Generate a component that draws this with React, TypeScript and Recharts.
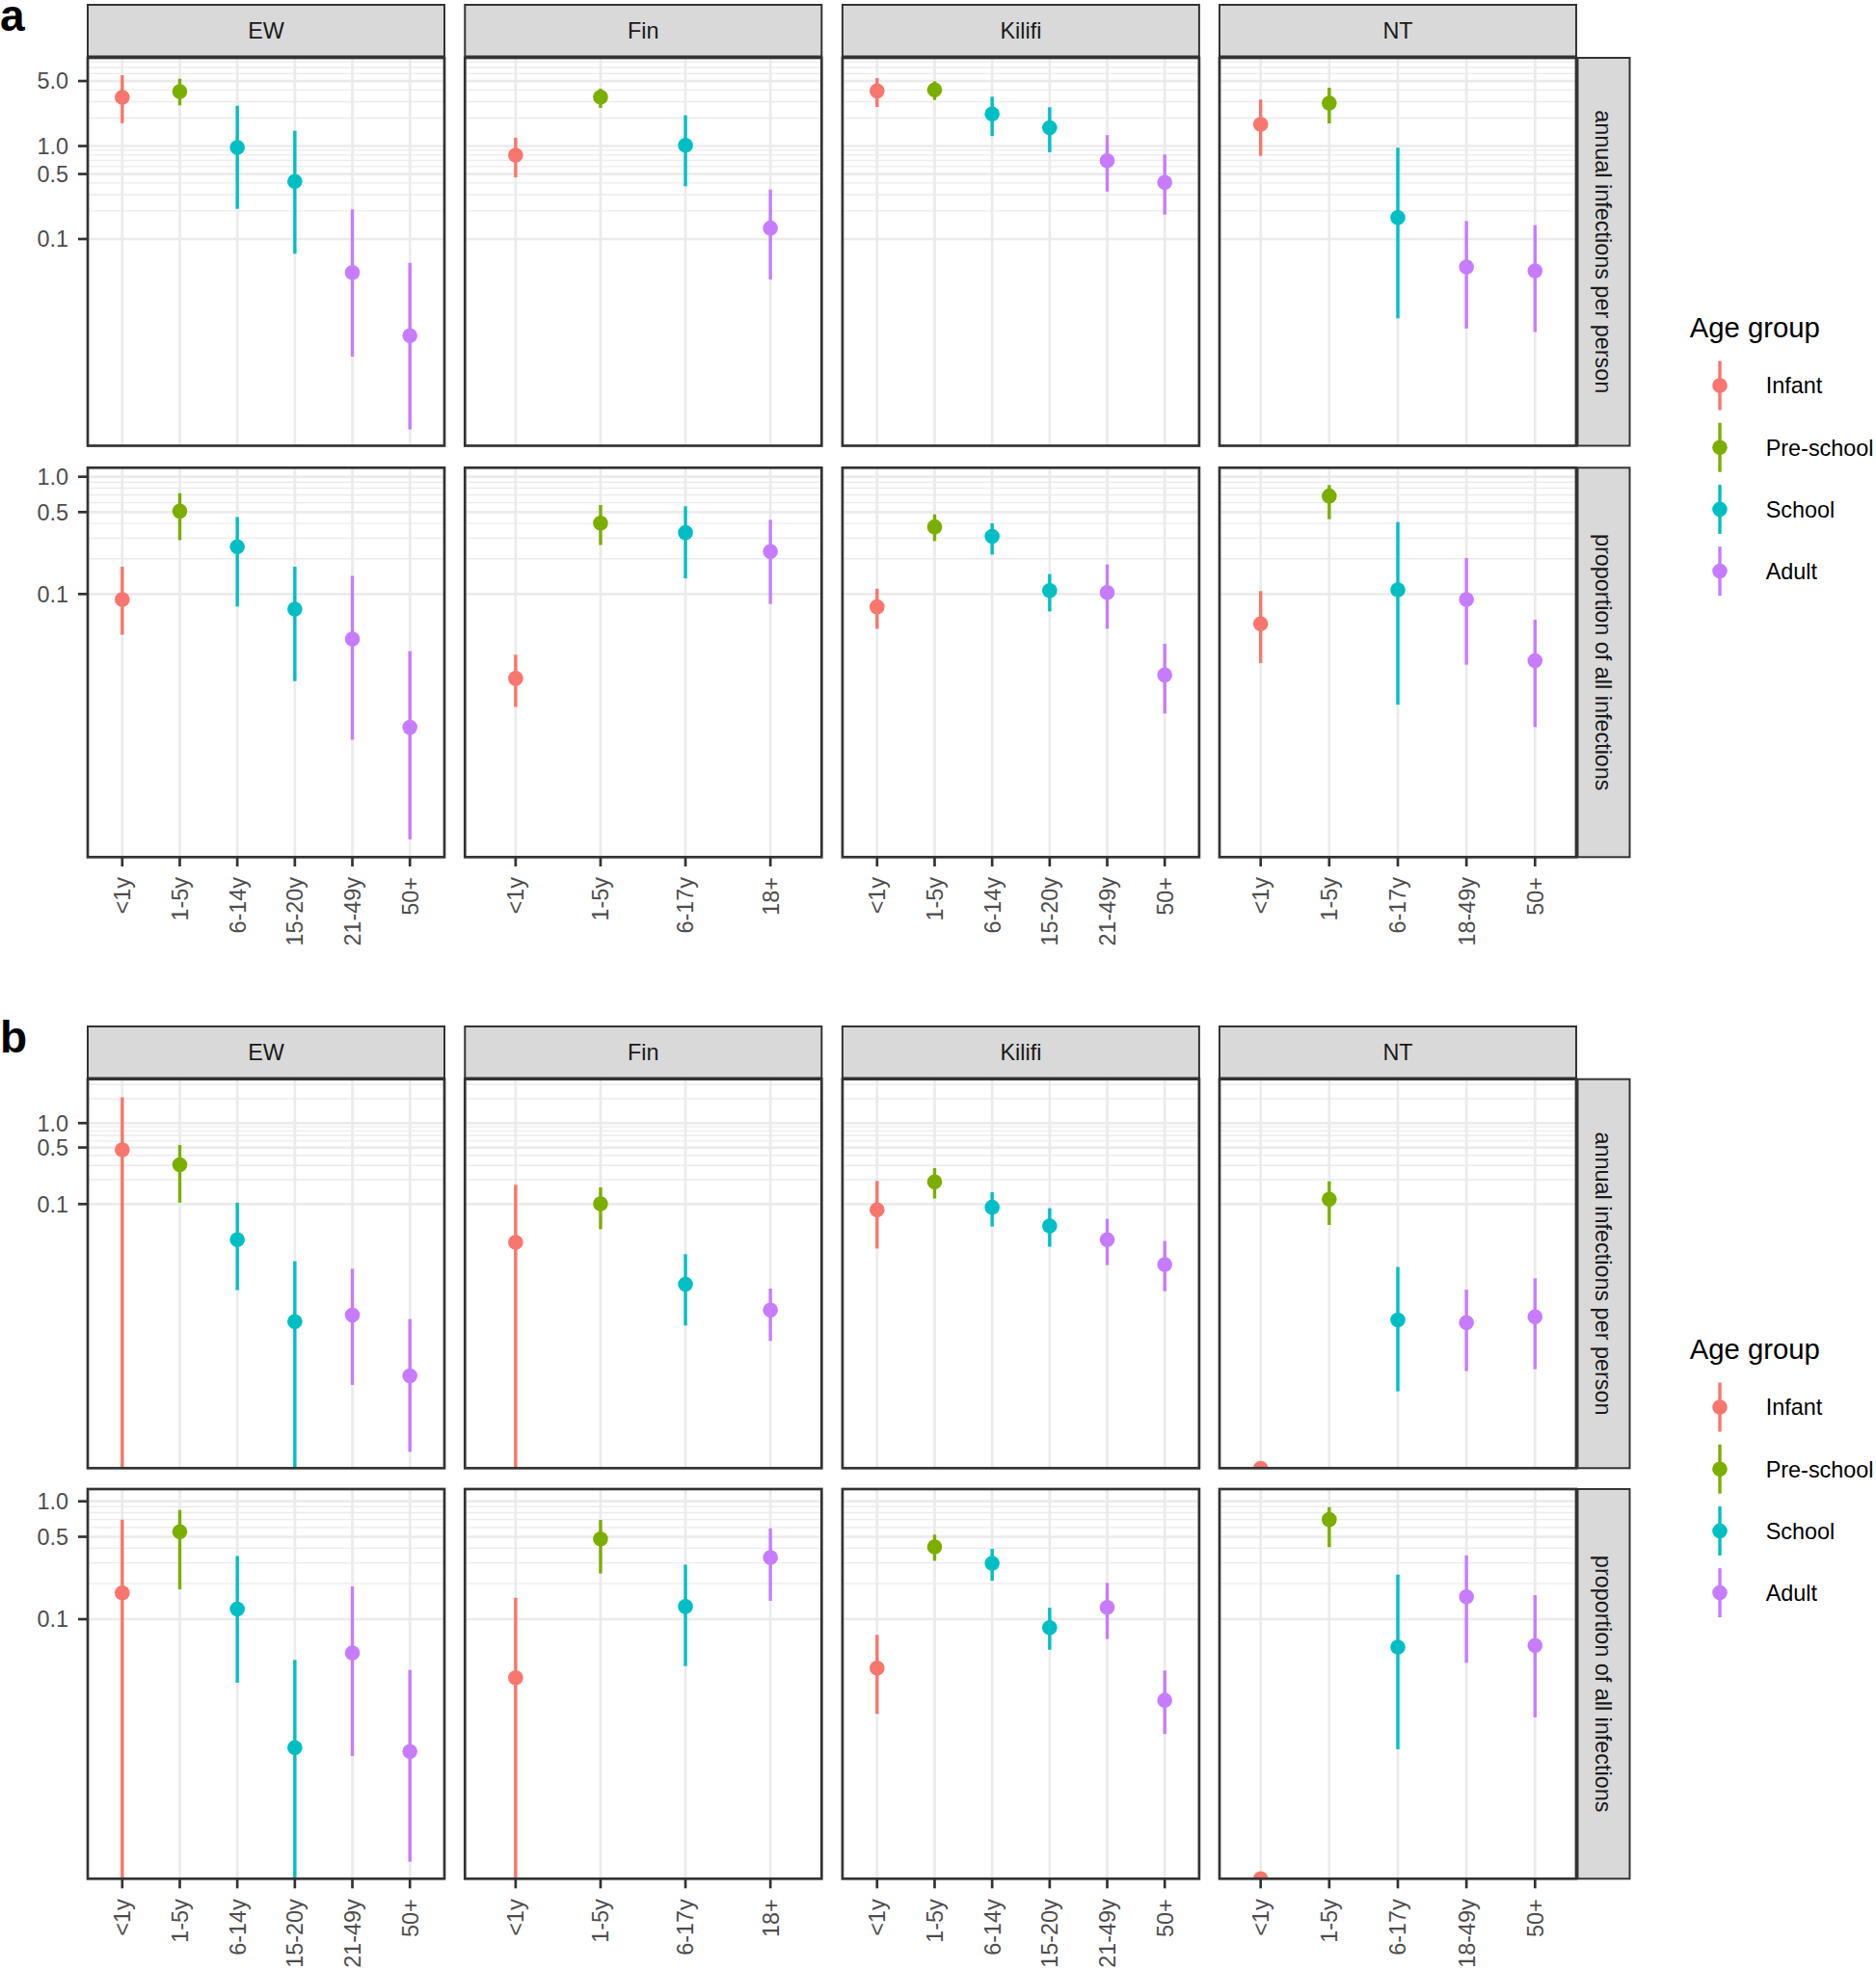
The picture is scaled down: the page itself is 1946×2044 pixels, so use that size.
import React from 'react';
import { ScatterChart, Scatter, XAxis, YAxis, CartesianGrid, ErrorBar } from 'recharts';

const FONT = '"Liberation Sans", Arial, Helvetica, sans-serif';

const GROUPS = ['Infant', 'Pre-school', 'School', 'Adult'];
const GROUP_COLORS = ['#F8766D', '#7CAE00', '#00BFC4', '#C77CFF'];
const SITES = ['EW', 'Fin', 'Kilifi', 'NT'];

// age classes per site and the age group each one belongs to
const ageEW = ['<1y', '1-5y', '6-14y', '15-20y', '21-49y', '50+'];
const ageFin = ['<1y', '1-5y', '6-17y', '18+'];
const ageKilifi = ['<1y', '1-5y', '6-14y', '15-20y', '21-49y', '50+'];
const ageNT = ['<1y', '1-5y', '6-17y', '18-49y', '50+'];
const groupEW = [0, 1, 2, 2, 3, 3];
const groupFin = [0, 1, 2, 3];
const groupKilifi = [0, 1, 2, 2, 3, 3];
const groupNT = [0, 1, 2, 3, 3];

// lower bound that runs off the bottom of the panel
const BELOW = 1e-9;

// [estimate, lower, upper]
// panel a, annual infections per person
const aAnnualEW = [[3.34, 1.76, 5.78], [3.85, 2.74, 5.29], [0.965, 0.211, 2.71], [0.416, 0.0694, 1.46], [0.0437, 0.00544, 0.208], [0.00914, 0.000894, 0.0555]];
const aAnnualFin = [[0.797, 0.461, 1.23], [3.36, 2.57, 4.14], [1.02, 0.369, 2.14], [0.131, 0.0367, 0.34]];
const aAnnualKilifi = [[3.91, 2.63, 5.38], [4.01, 3.13, 4.97], [2.21, 1.28, 3.39], [1.57, 0.857, 2.61], [0.696, 0.324, 1.31], [0.406, 0.183, 0.811]];
const aAnnualNT = [[1.71, 0.784, 3.16], [2.89, 1.75, 4.24], [0.17, 0.014, 0.958], [0.05, 0.0109, 0.156], [0.0455, 0.01, 0.141]];
// panel a, proportion of all infections
const aPropEW = [[0.09, 0.0449, 0.171], [0.509, 0.288, 0.725], [0.253, 0.0782, 0.454], [0.0744, 0.0181, 0.171], [0.0414, 0.00574, 0.143], [0.00731, 0.00081, 0.0326]];
const aPropFin = [[0.0191, 0.0109, 0.0304], [0.403, 0.262, 0.574], [0.334, 0.136, 0.56], [0.23, 0.0823, 0.429]];
const aPropKilifi = [[0.0778, 0.0506, 0.111], [0.374, 0.283, 0.478], [0.31, 0.217, 0.401], [0.107, 0.0711, 0.148], [0.103, 0.0506, 0.179], [0.0204, 0.00957, 0.0377]];
const aPropNT = [[0.0557, 0.0258, 0.106], [0.685, 0.435, 0.849], [0.1087, 0.0114, 0.411], [0.09, 0.025, 0.203], [0.027, 0.00735, 0.0604]];
// panel b, annual infections per person
const bAnnualEW = [[0.468, BELOW, 2.08], [0.305, 0.104, 0.537], [0.0363, 0.00865, 0.104], [0.00353, BELOW, 0.0197], [0.00424, 0.000583, 0.0159], [0.000754, 0.0000871, 0.0038]];
const bAnnualFin = [[0.0337, BELOW, 0.173], [0.101, 0.049, 0.161], [0.0102, 0.00316, 0.024], [0.0049, 0.00204, 0.00904]];
const bAnnualKilifi = [[0.0849, 0.0283, 0.193], [0.188, 0.117, 0.278], [0.0912, 0.0528, 0.14], [0.0537, 0.0297, 0.0888], [0.0363, 0.0176, 0.0657], [0.0179, 0.0084, 0.035]];
const bAnnualNT = [[0.0000543, 0.0000543, 0.0000543], [0.115, 0.0552, 0.191], [0.0037, 0.000486, 0.0167], [0.00343, 0.000865, 0.00879], [0.00405, 0.000912, 0.0121]];
// panel b, proportion of all infections
const bPropEW = [[0.167, BELOW, 0.7], [0.552, 0.179, 0.844], [0.122, 0.0289, 0.344], [0.00813, BELOW, 0.0451], [0.0518, 0.0069, 0.19], [0.00754, 0.000875, 0.0371]];
const bPropFin = [[0.0319, BELOW, 0.152], [0.48, 0.244, 0.695], [0.128, 0.04, 0.29], [0.334, 0.143, 0.59]];
const bPropKilifi = [[0.0385, 0.0157, 0.0736], [0.41, 0.313, 0.521], [0.298, 0.212, 0.395], [0.0849, 0.055, 0.125], [0.126, 0.0678, 0.203], [0.0205, 0.0106, 0.0367]];
const bPropNT = [[0.000628, 0.000628, 0.000628], [0.7, 0.408, 0.893], [0.0579, 0.00787, 0.239], [0.155, 0.0426, 0.348], [0.0598, 0.0147, 0.16]];

const MAJOR_TICKS = [0.1, 0.5, 1, 5];
const MINOR_LINES = [0.2, 0.3, 0.4, 0.6, 0.7, 0.8, 0.9, 2, 3, 4, 6, 7, 8, 9];

const ROW_LABELS = ['annual infections per person', 'proportion of all infections'];

// layout (px)
const PANEL_LEFTS = [91, 482.3, 873.9, 1265];
const PANEL_W = 370;
const Y_AXIS_W = 91;
const X_AXIS_H = 120;
const PAD_TOP = 20;

const ages = [ageEW, ageFin, ageKilifi, ageNT];
const groupsOf = [groupEW, groupFin, groupKilifi, groupNT];

const FIGURES = [
  {
    tag: 'a',
    tagY: 32,
    stripTop: 5,
    stripBottom: 58.5,
    legendY: 0,
    rows: [
      { top: 60, bottom: 462.5, domain: [0.000598, 8.88], values: [aAnnualEW, aAnnualFin, aAnnualKilifi, aAnnualNT] },
      { top: 485.3, bottom: 889.3, domain: [0.000575, 1.201], values: [aPropEW, aPropFin, aPropKilifi, aPropNT] },
    ],
  },
  {
    tag: 'b',
    tagY: 1092,
    stripTop: 1065,
    stripBottom: 1118.5,
    legendY: 1060,
    rows: [
      { top: 1119.7, bottom: 1523.3, domain: [0.0000543, 3.46], values: [bAnnualEW, bAnnualFin, bAnnualKilifi, bAnnualNT] },
      { top: 1545, bottom: 1949.3, domain: [0.000628, 1.27], values: [bPropEW, bPropFin, bPropKilifi, bPropNT] },
    ],
  },
];

const XTick = (props: any) => {
  const { x, y, payload, labels } = props;
  return (
    <text
      x={x}
      y={y}
      transform={`rotate(-90 ${x} ${y})`}
      textAnchor="end"
      dy="0.36em"
      fill="#4d4d4d"
      fontSize={23.4}
      fontFamily={FONT}
    >
      {labels[payload.value]}
    </text>
  );
};

const Dot = (color: string) => (p: any) => <circle cx={p.cx} cy={p.cy} r={7.8} fill={color} />;

interface FacetProps {
  left: number;
  top: number;
  height: number;
  showY: boolean;
  showX: boolean;
  domain: number[];
  labels: string[];
  groups: number[];
  values: number[][];
}

const Facet: React.FC<FacetProps> = ({ left, top, height, showY, showX, domain, labels, groups, values }) => {
  const yW = showY ? Y_AXIS_W : 0;
  const xH = showX ? X_AXIS_H : 0;
  const n = labels.length;
  const xs = labels.map((_, i) => i);
  const inside = (v: number) => v > domain[0] && v < domain[1];
  const ticks = MAJOR_TICKS.filter(inside);
  const minor = MINOR_LINES.filter(inside);

  return (
    <div style={{ position: 'absolute', left: left - yW, top: top - PAD_TOP }}>
      <ScatterChart
        width={PANEL_W + yW}
        height={height + xH + PAD_TOP}
        margin={{ top: PAD_TOP, right: 0, bottom: 0, left: 0 }}
      >
        <CartesianGrid vertical={false} horizontalValues={minor} stroke="#ebebeb" strokeWidth={1.35} />
        <CartesianGrid horizontalValues={ticks} verticalValues={xs} stroke="#ebebeb" strokeWidth={2.7} />
        <XAxis
          type="number"
          dataKey="x"
          domain={[-0.6, n - 0.4]}
          allowDataOverflow
          ticks={xs}
          interval={0}
          hide={!showX}
          height={xH}
          axisLine={false}
          tickSize={10}
          tickMargin={11}
          tickLine={{ stroke: '#333333', strokeWidth: 2.7 }}
          tick={(p: any) => <XTick {...p} labels={labels} />}
        />
        <YAxis
          type="number"
          dataKey="y"
          scale="log"
          domain={domain}
          allowDataOverflow
          ticks={ticks}
          interval={0}
          hide={!showY}
          width={yW}
          axisLine={false}
          tickSize={10}
          tickMargin={10}
          tickLine={{ stroke: '#333333', strokeWidth: 2.7 }}
          tick={{ fill: '#4d4d4d', fontSize: 23.4, fontFamily: FONT }}
          tickFormatter={(v: number) => v.toFixed(1)}
        />
        {GROUPS.map((g, gi) => {
          // ranges that leave the panel are squished to its floor, as ggplot does
          const data = values
            .map((v, i) => {
              const lo = Math.max(v[1], domain[0]);
              return { x: i, y: v[0], err: [v[0] - lo, v[2] - v[0]] };
            })
            .filter((_, i) => groups[i] === gi);
          return (
            <Scatter key={g} name={g} data={data} isAnimationActive={false} shape={Dot(GROUP_COLORS[gi])}>
              <ErrorBar
                dataKey="err"
                direction="y"
                width={0}
                stroke={GROUP_COLORS[gi]}
                strokeWidth={3.4}
                isAnimationActive={false}
              />
            </Scatter>
          );
        })}
      </ScatterChart>
    </div>
  );
};

const App: React.FC = () => {
  const stripX = PANEL_LEFTS[3] + PANEL_W + 1.5;
  const stripW = 54;

  return (
    <div style={{ position: 'absolute', left: 0, top: 0, width: 1946, height: 2044, background: '#fff', fontFamily: FONT }}>
      {FIGURES.map((fig) =>
        fig.rows.map((row, ri) =>
          SITES.map((site, si) => (
            <Facet
              key={`${fig.tag}-${ri}-${site}`}
              left={PANEL_LEFTS[si]}
              top={row.top}
              height={row.bottom - row.top}
              showY={si === 0}
              showX={ri === 1}
              domain={row.domain}
              labels={ages[si]}
              groups={groupsOf[si]}
              values={row.values[si]}
            />
          ))
        )
      )}

      <svg width={1946} height={2044} style={{ position: 'absolute', left: 0, top: 0, pointerEvents: 'none' }}>
        {FIGURES.map((fig) => (
          <g key={fig.tag}>
            <text x={0} y={fig.tagY} fontSize={46} fontWeight="bold" fontFamily={FONT} fill="#000">
              {fig.tag}
            </text>

            {/* column strips */}
            {SITES.map((site, si) => (
              <g key={site}>
                <rect
                  x={PANEL_LEFTS[si]}
                  y={fig.stripTop}
                  width={PANEL_W}
                  height={fig.stripBottom - fig.stripTop}
                  fill="#d9d9d9"
                  stroke="#333333"
                  strokeWidth={2}
                />
                <text
                  x={PANEL_LEFTS[si] + PANEL_W / 2}
                  y={(fig.stripTop + fig.stripBottom) / 2 + 8.4}
                  textAnchor="middle"
                  fontSize={23.4}
                  fill="#1a1a1a"
                  fontFamily={FONT}
                >
                  {site}
                </text>
              </g>
            ))}

            {/* panel borders and row strips */}
            {fig.rows.map((row, ri) => (
              <g key={ri}>
                {SITES.map((site, si) => (
                  <rect
                    key={site}
                    x={PANEL_LEFTS[si]}
                    y={row.top}
                    width={PANEL_W}
                    height={row.bottom - row.top}
                    fill="none"
                    stroke="#333333"
                    strokeWidth={2.7}
                  />
                ))}
                <rect
                  x={stripX}
                  y={row.top}
                  width={stripW}
                  height={row.bottom - row.top}
                  fill="#d9d9d9"
                  stroke="#333333"
                  strokeWidth={2}
                />
                <text
                  transform={`translate(${stripX + stripW / 2 - 8.4}, ${(row.top + row.bottom) / 2}) rotate(90)`}
                  textAnchor="middle"
                  fontSize={23.4}
                  fill="#1a1a1a"
                  fontFamily={FONT}
                >
                  {ROW_LABELS[ri]}
                </text>
              </g>
            ))}

            {/* legend */}
            <text x={1752.7} y={350 + fig.legendY} fontSize={29.3} fill="#000" fontFamily={FONT}>
              Age group
            </text>
            {GROUPS.map((g, gi) => {
              const cy = 400 + gi * 64.2 + fig.legendY;
              return (
                <g key={g}>
                  <line x1={1784} x2={1784} y1={cy - 25.5} y2={cy + 25.5} stroke={GROUP_COLORS[gi]} strokeWidth={3.4} />
                  <circle cx={1784} cy={cy} r={7.8} fill={GROUP_COLORS[gi]} />
                  <text x={1831.7} y={cy + 8.4} fontSize={23.4} fill="#000" fontFamily={FONT}>
                    {g}
                  </text>
                </g>
              );
            })}
          </g>
        ))}
      </svg>
    </div>
  );
};

export default App;
